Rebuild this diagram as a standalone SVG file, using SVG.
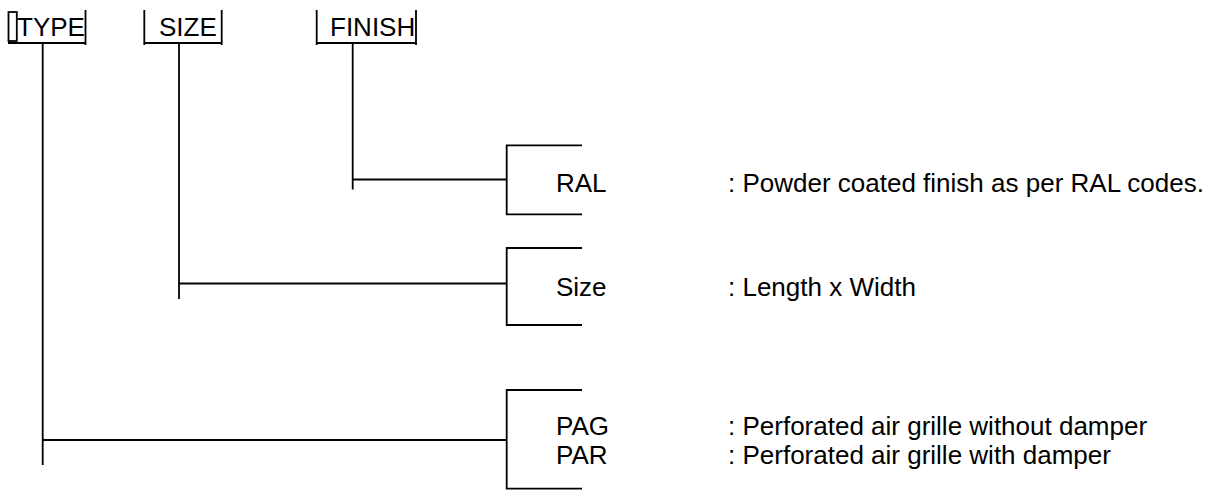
<svg xmlns="http://www.w3.org/2000/svg" width="1217" height="490" viewBox="0 0 1217 490">
<style>
.ln{stroke:#000;stroke-width:1.8;fill:none}
.t{font-family:"Liberation Sans",Arial,sans-serif;font-size:26px;fill:#000}
</style>
<rect width="1217" height="490" fill="#fff"/>
<g id="header-type">
<rect class="ln" x="8.5" y="12" width="8.3" height="29"/>
<text class="t" x="17" y="36">TYPE</text>
<path class="ln" d="M8 43H85.5M85.5 10V45"/>
</g>
<g id="header-size">
<text class="t" x="159" y="36">SIZE</text>
<path class="ln" d="M144.3 10V45M221.7 10V45M144.3 43H221.7"/>
</g>
<g id="header-finish">
<text class="t" x="330" y="36">FINISH</text>
<path class="ln" d="M316.7 10V45M416 10V45M316.7 43H416"/>
</g>
<g id="connectors">
<path class="ln" d="M352.7 43V189.5M352.7 179.5H506.7"/>
<path class="ln" d="M179 43V299M179 283.5H506.7"/>
<path class="ln" d="M42.7 43V465M42.7 440H506.7"/>
</g>
<g id="node-ral">
<path class="ln" d="M582 145.3H506.7V214.3H582"/>
<text class="t" x="556" y="192">RAL</text>
<text class="t" x="728" y="192">: Powder coated finish as per RAL codes.</text>
</g>
<g id="node-size">
<path class="ln" d="M582 248H506.7V325H582"/>
<text class="t" x="556" y="296">Size</text>
<text class="t" x="728" y="296">: Length x Width</text>
</g>
<g id="node-type">
<path class="ln" d="M582 390H506.7V488.7H582"/>
<text class="t" x="556" y="435">PAG</text>
<text class="t" x="728" y="435">: Perforated air grille without damper</text>
<text class="t" x="556" y="464">PAR</text>
<text class="t" x="728" y="464">: Perforated air grille with damper</text>
</g>
</svg>
